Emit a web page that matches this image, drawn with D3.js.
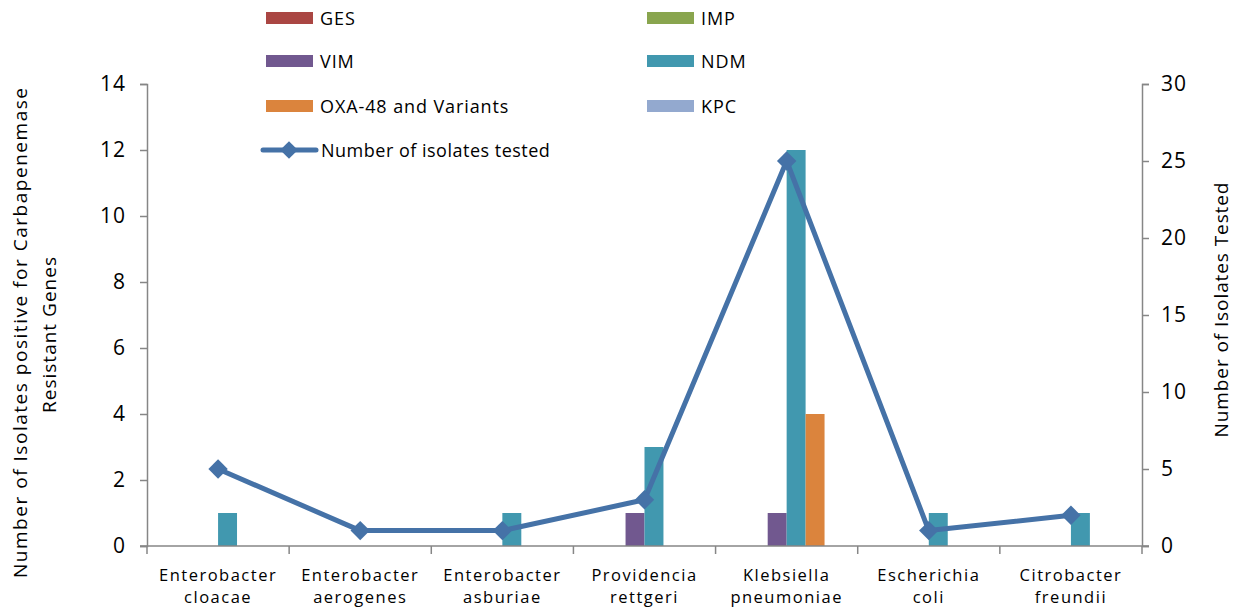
<!DOCTYPE html>
<html>
<head>
<meta charset="utf-8">
<script src="https://cdn.jsdelivr.net/npm/d3@7"></script>
<style>
  body { margin: 0; background: #fff; }
  text { font-family: "Open Sans", sans-serif; fill: #000; }
  .axis path, .axis line { stroke: #868686; stroke-width: 1.5; }
</style>
</head>
<body>
<div class="chart"></div>
<script>
/// Data
var categories = [
    ["Enterobacter", "cloacae"],
    ["Enterobacter", "aerogenes"],
    ["Enterobacter", "asburiae"],
    ["Providencia", "rettgeri"],
    ["Klebsiella", "pneumoniae"],
    ["Escherichia", "coli"],
    ["Citrobacter", "freundii"]
];
var geneNames = ["GES", "IMP", "VIM", "NDM", "OXA-48 and Variants", "KPC"];
var geneColors = ["#AA4643", "#89A54E", "#71588F", "#4198AF", "#DB843D", "#93A9CF"];
var GES = [0, 0, 0, 0, 0, 0, 0];
var IMP = [0, 0, 0, 0, 0, 0, 0];
var VIM = [0, 0, 0, 1, 1, 0, 0];
var NDM = [1, 0, 1, 3, 12, 1, 1];
var OXA = [0, 0, 0, 0, 4, 0, 0];
var KPC = [0, 0, 0, 0, 0, 0, 0];
var geneSeries = [GES, IMP, VIM, NDM, OXA, KPC];
var isolatesTested = [5, 1, 1, 3, 25, 1, 2];
var leftTicks = [0, 2, 4, 6, 8, 10, 12, 14];
var rightTicks = [0, 5, 10, 15, 20, 25, 30];

var svgWidth = 1238;
var svgHeight = 609;
var margin = { top: 84, right: 96, bottom: 63, left: 147 };
var width = svgWidth - margin.left - margin.right;
var height = svgHeight - margin.top - margin.bottom;

var svg = d3.select(".chart")
    .append("svg")
    .attr("width", svgWidth)
    .attr("height", svgHeight);

var chartGroup = svg.append("g")
    .attr("transform", `translate(${margin.left}, ${margin.top})`);

/// Scales
var idx = d3.range(categories.length);
var xBand = d3.scaleBand().domain(idx).range([0, width]);
// bar width = band / (6 + 1.5) -> gap width 150%
var barW = xBand.bandwidth() / 7.5;
var yLeft = d3.scaleLinear().domain([0, 14]).range([height, 0]);
var yRight = d3.scaleLinear().domain([0, 30]).range([height, 0]);
var cx = i => xBand(i) + xBand.bandwidth() / 2;

/// Bars
geneSeries.forEach(function(series, s) {
    chartGroup.selectAll(".bar" + s)
        .data(series.map((v, i) => ({ v: v, i: i })).filter(d => d.v > 0))
        .enter()
        .append("rect")
        .attr("x", d => cx(d.i) - 3 * barW + s * barW)
        .attr("y", d => yLeft(d.v))
        .attr("width", barW)
        .attr("height", d => height - yLeft(d.v))
        .attr("fill", geneColors[s]);
});

/// Axes
var leftAxis = d3.axisLeft(yLeft).tickValues(leftTicks).tickSize(7).tickPadding(14);
chartGroup.append("g").attr("class", "axis").call(leftAxis)
    .call(g => g.selectAll("text").style("font-size", "21px").style("letter-spacing", "1px"));

var rightAxis = d3.axisRight(yRight).tickValues(rightTicks).tickSize(7).tickPadding(12);
chartGroup.append("g").attr("class", "axis")
    .attr("transform", `translate(${width}, 0)`)
    .call(rightAxis)
    .call(g => g.selectAll("text").style("font-size", "21px").style("letter-spacing", "1px"));

var xAxis = chartGroup.append("g").attr("class", "axis")
    .attr("transform", `translate(0, ${height})`);
xAxis.append("line").attr("x1", -7).attr("x2", width + 7);
xAxis.selectAll(".xt")
    .data(d3.range(categories.length + 1))
    .enter()
    .append("line")
    .attr("x1", d => d * xBand.step())
    .attr("x2", d => d * xBand.step())
    .attr("y1", 0)
    .attr("y2", 8);

var xLabels = chartGroup.selectAll(".xlabel")
    .data(categories)
    .enter()
    .append("text")
    .attr("text-anchor", "middle")
    .style("font-size", "16.5px")
    .style("letter-spacing", "1.5px")
    .attr("transform", (d, i) => `translate(${cx(i)}, ${height + 35})`);
xLabels.append("tspan").attr("x", 0).attr("y", 0).text(d => d[0]);
xLabels.append("tspan").attr("x", 0).attr("y", 22).text(d => d[1]);

/// Line series
var line = d3.line()
    .x((d, i) => cx(i))
    .y(d => yRight(d));
chartGroup.append("path")
    .datum(isolatesTested)
    .attr("d", line)
    .attr("fill", "none")
    .attr("stroke", "#4572A7")
    .attr("stroke-width", 5)
    .attr("stroke-linejoin", "round");
chartGroup.selectAll(".marker")
    .data(isolatesTested)
    .enter()
    .append("path")
    .attr("d", d3.symbol().type(d3.symbolDiamond2).size(240))
    .attr("transform", (d, i) => `translate(${cx(i)}, ${yRight(d)})`)
    .attr("fill", "#4572A7");

/// Axis titles
function title(x, y, len, txt) {
    svg.append("text")
        .attr("transform", `translate(${x}, ${y}) rotate(-90)`)
        .attr("text-anchor", "middle")
        .attr("textLength", len)
        .attr("lengthAdjust", "spacing")
        .style("font-size", "19px")
        .text(txt);
}
title(27, 333, 490, "Number of Isolates positive for Carbapenemase");
title(56, 335, 156, "Resistant Genes");
title(1228, 310, 255, "Number of Isolates Tested");

/// Legend
var legendPos = [[266, 18], [647, 18], [266, 61], [647, 61], [266, 106], [647, 106]];
geneNames.forEach(function(name, s) {
    var p = legendPos[s];
    svg.append("rect")
        .attr("x", p[0]).attr("y", p[1] - 6)
        .attr("width", 47).attr("height", 12)
        .attr("fill", geneColors[s]);
    svg.append("text")
        .attr("x", p[0] + 54).attr("y", p[1] + 6.5)
        .style("font-size", "18px")
        .style("letter-spacing", "0.9px")
        .text(name);
});
svg.append("line")
    .attr("x1", 263).attr("x2", 316)
    .attr("y1", 150).attr("y2", 150)
    .attr("stroke", "#4572A7").attr("stroke-width", 5)
    .attr("stroke-linecap", "round");
svg.append("path")
    .attr("d", d3.symbol().type(d3.symbolDiamond2).size(200))
    .attr("transform", "translate(289, 150)")
    .attr("fill", "#4572A7");
svg.append("text")
    .attr("x", 321).attr("y", 157)
    .style("font-size", "18px")
    .style("letter-spacing", "0.5px")
    .text("Number of isolates tested");
</script>
</body>
</html>
